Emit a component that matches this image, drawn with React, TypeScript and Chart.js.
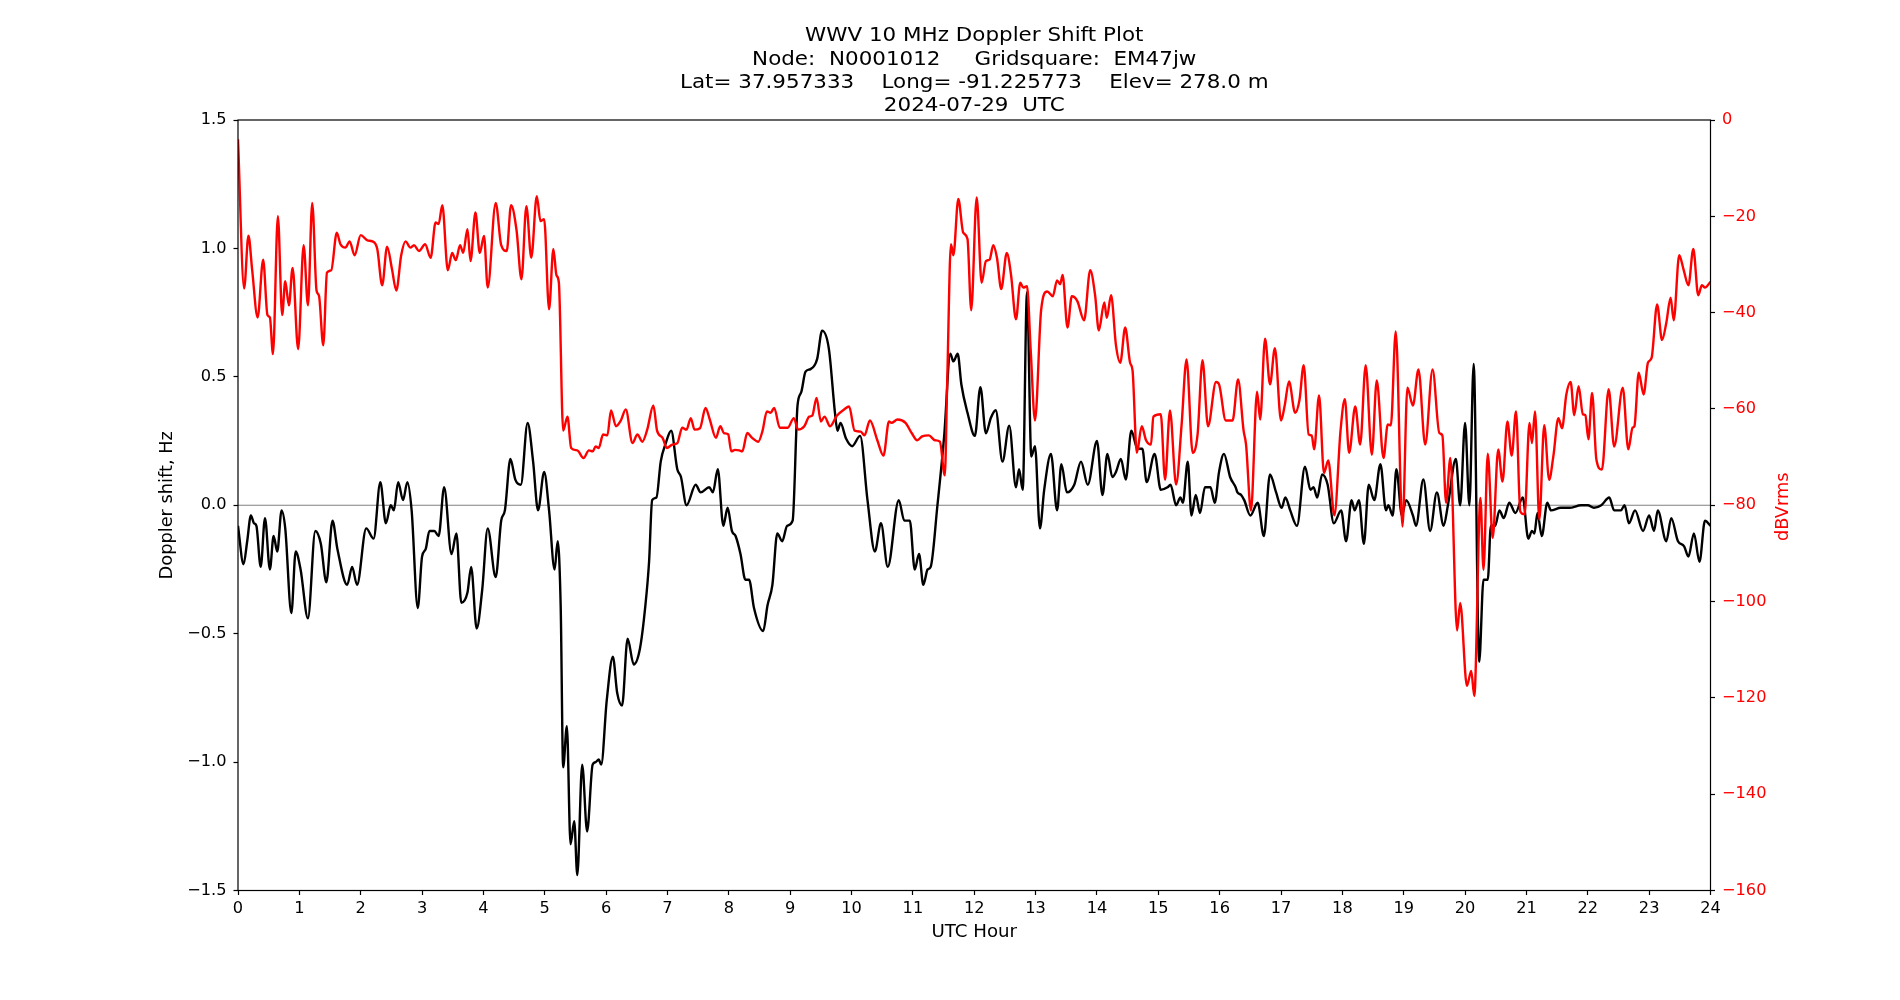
import React, { useEffect, useRef } from "react";
import { Chart, registerables } from "chart.js";

Chart.register(...registerables);

const FONT = '"DejaVu Sans", "Liberation Sans", sans-serif';

const titleLines = [
  "WWV 10 MHz Doppler Shift Plot",
  "Node:  N0001012     Gridsquare:  EM47jw",
  "Lat= 37.957333    Long= -91.225773    Elev= 278.0 m",
  "2024-07-29  UTC",
];

const xAxisLabel = "UTC Hour";
const leftAxisLabel = "Doppler shift, Hz";
const rightAxisLabel = "dBVrms";

const hourTicks = [0, 1, 2, 3, 4, 5, 6, 7, 8, 9, 10, 11, 12, 13, 14, 15, 16, 17, 18, 19, 20, 21, 22, 23, 24];
const dopplerTicks = [-1.5, -1.0, -0.5, 0.0, 0.5, 1.0, 1.5];
const powerTicks = [-160, -140, -120, -100, -80, -60, -40, -20, 0];

// Doppler shift (Hz) vs UTC hour
const dopplerHours = [
  0.0, 0.09, 0.15, 0.21, 0.26, 0.3, 0.37, 0.44, 0.52, 0.58, 0.64, 0.71, 0.77, 0.87, 0.94,
  1.02, 1.14, 1.26, 1.35, 1.44, 1.54, 1.62, 1.78, 1.86, 1.94, 2.09, 2.21, 2.32, 2.41, 2.49,
  2.54, 2.61, 2.69, 2.76, 2.83, 2.93, 3.0, 3.06, 3.12, 3.2, 3.27, 3.36, 3.48, 3.56, 3.64,
  3.74, 3.8, 3.89, 3.98, 4.07, 4.2, 4.29, 4.35, 4.44, 4.52, 4.61, 4.72, 4.81, 4.89, 4.99,
  5.07, 5.16, 5.21, 5.26, 5.3, 5.36, 5.42, 5.48, 5.53, 5.61, 5.69, 5.78, 5.83, 5.88, 5.92,
  6.01, 6.11, 6.18, 6.26, 6.35, 6.45, 6.55, 6.64, 6.7, 6.75, 6.82, 6.89, 6.97, 7.06, 7.16,
  7.22, 7.31, 7.46, 7.54, 7.68, 7.74, 7.82, 7.91, 7.98, 8.05, 8.11, 8.19, 8.27, 8.33, 8.41,
  8.56, 8.63, 8.71, 8.79, 8.87, 8.95, 9.04, 9.12, 9.18, 9.25, 9.33, 9.44, 9.52, 9.63, 9.73,
  9.77, 9.82, 9.91, 10.01, 10.14, 10.26, 10.38, 10.48, 10.59, 10.77, 10.86, 10.95, 11.03, 11.1, 11.17,
  11.24, 11.29, 11.4, 11.51, 11.61, 11.66, 11.73, 11.79, 11.89, 12.01, 12.1, 12.19, 12.27, 12.35, 12.46,
  12.57, 12.68, 12.73, 12.79, 12.86, 12.93, 12.99, 13.07, 13.14, 13.25, 13.35, 13.42, 13.51, 13.63, 13.74,
  13.85, 14.0, 14.09, 14.17, 14.25, 14.31, 14.39, 14.47, 14.56, 14.66, 14.74, 14.81, 14.94, 15.04, 15.15,
  15.2, 15.29, 15.36, 15.4, 15.48, 15.54, 15.61, 15.68, 15.76, 15.85, 15.92, 15.99, 16.07, 16.17, 16.26,
  16.29, 16.35, 16.4, 16.5, 16.62, 16.72, 16.82, 16.92, 17.01, 17.07, 17.15, 17.26, 17.39, 17.48, 17.53,
  17.59, 17.67, 17.76, 17.86, 17.98, 18.06, 18.15, 18.2, 18.27, 18.35, 18.43, 18.52, 18.62, 18.71, 18.75,
  18.82, 18.88, 18.97, 19.04, 19.15, 19.2, 19.32, 19.43, 19.54, 19.65, 19.72, 19.85, 19.92, 20.0, 20.07,
  20.14, 20.23, 20.3, 20.37, 20.42, 20.49, 20.56, 20.63, 20.72, 20.82, 20.94, 21.03, 21.09, 21.13, 21.18,
  21.25, 21.34, 21.4, 21.56, 21.7, 21.89, 22.0, 22.1, 22.22, 22.35, 22.43, 22.54, 22.6, 22.67, 22.77,
  22.9, 23.0, 23.08, 23.14, 23.28, 23.36, 23.47, 23.57, 23.64, 23.73, 23.82, 23.91, 24.0,
];
const dopplerHz = [
  -0.08, -0.23, -0.14, -0.04, -0.07, -0.08, -0.24, -0.05, -0.25, -0.12, -0.18, -0.02, -0.09, -0.42, -0.18,
  -0.25, -0.44, -0.1, -0.15, -0.3, -0.06, -0.17, -0.31, -0.24, -0.31, -0.09, -0.13, 0.09, -0.07, 0.0,
  -0.02, 0.09, 0.02, 0.09, -0.02, -0.4, -0.2, -0.17, -0.1, -0.1, -0.12, 0.07, -0.19, -0.11, -0.38,
  -0.34, -0.24, -0.48, -0.33, -0.09, -0.28, -0.06, -0.02, 0.18, 0.1, 0.08, 0.32, 0.17, -0.02, 0.13,
  -0.02, -0.25, -0.14, -0.4, -1.02, -0.86, -1.32, -1.23, -1.44, -1.01, -1.27, -1.01, -1.0, -0.99, -1.01,
  -0.76, -0.59, -0.73, -0.78, -0.52, -0.62, -0.56, -0.39, -0.22, 0.02, 0.03, 0.17, 0.24, 0.29, 0.14,
  0.11, 0.0, 0.08, 0.05, 0.07, 0.05, 0.14, -0.08, -0.01, -0.1, -0.12, -0.19, -0.29, -0.29, -0.4,
  -0.49, -0.39, -0.31, -0.11, -0.14, -0.08, -0.06, 0.39, 0.44, 0.52, 0.53, 0.57, 0.68, 0.61, 0.36,
  0.29, 0.32, 0.26, 0.23, 0.27, 0.02, -0.18, -0.07, -0.24, 0.02, -0.06, -0.06, -0.25, -0.19, -0.31,
  -0.25, -0.24, 0.0, 0.27, 0.59, 0.56, 0.59, 0.47, 0.36, 0.27, 0.46, 0.28, 0.34, 0.37, 0.17,
  0.31, 0.07, 0.14, 0.06, 0.83, 0.19, 0.23, -0.09, 0.06, 0.2, -0.02, 0.16, 0.05, 0.08, 0.17,
  0.08, 0.25, 0.04, 0.2, 0.11, 0.13, 0.18, 0.1, 0.29, 0.22, 0.22, 0.09, 0.2, 0.06, 0.07,
  0.08, 0.0, 0.03, 0.01, 0.17, -0.04, 0.04, -0.03, 0.07, 0.07, 0.01, 0.13, 0.2, 0.11, 0.07,
  0.05, 0.04, 0.02, -0.04, 0.01, -0.12, 0.12, 0.05, -0.01, 0.03, -0.02, -0.08, 0.15, 0.06, 0.07,
  0.03, 0.12, 0.08, -0.07, -0.02, -0.14, 0.02, -0.02, 0.02, -0.15, 0.08, 0.02, 0.16, -0.02, 0.0,
  -0.04, 0.14, -0.04, 0.02, -0.04, -0.08, 0.1, -0.1, 0.05, -0.08, 0.0, 0.18, 0.0, 0.32, 0.0,
  0.55, -0.61, -0.29, -0.29, -0.08, -0.08, -0.02, -0.05, 0.01, -0.03, 0.03, -0.13, -0.1, -0.11, -0.03,
  -0.12, 0.01, -0.02, -0.01, -0.01, 0.0, 0.0, -0.01, 0.0, 0.03, -0.02, -0.02, 0.0, -0.07, -0.02,
  -0.1, -0.04, -0.1, -0.02, -0.14, -0.05, -0.14, -0.16, -0.2, -0.11, -0.22, -0.06, -0.08,
];

// Received signal level (dBVrms) vs UTC hour
const powerHours = [
  0.0, 0.1, 0.17, 0.23, 0.32, 0.41, 0.48, 0.52, 0.57, 0.65, 0.72, 0.77, 0.83, 0.89, 0.98,
  1.07, 1.14, 1.21, 1.28, 1.32, 1.39, 1.45, 1.52, 1.61, 1.67, 1.75, 1.82, 1.9, 2.0, 2.11,
  2.19, 2.27, 2.35, 2.43, 2.51, 2.58, 2.66, 2.73, 2.81, 2.87, 2.95, 3.05, 3.14, 3.22, 3.27,
  3.33, 3.42, 3.49, 3.55, 3.62, 3.67, 3.74, 3.79, 3.87, 3.94, 4.01, 4.07, 4.2, 4.29, 4.38,
  4.45, 4.54, 4.62, 4.7, 4.78, 4.87, 4.93, 4.99, 5.07, 5.14, 5.19, 5.23, 5.3, 5.37, 5.43,
  5.53, 5.63, 5.72, 5.78, 5.83, 5.88, 5.95, 6.02, 6.08, 6.16, 6.24, 6.32, 6.43, 6.51, 6.59,
  6.67, 6.77, 6.83, 6.92, 6.99, 7.08, 7.16, 7.24, 7.31, 7.38, 7.44, 7.53, 7.62, 7.69, 7.79,
  7.86, 7.92, 7.99, 8.04, 8.1, 8.17, 8.22, 8.3, 8.38, 8.48, 8.55, 8.62, 8.68, 8.74, 8.83,
  8.96, 9.06, 9.13, 9.23, 9.31, 9.36, 9.43, 9.5, 9.56, 9.65, 9.76, 9.88, 9.96, 10.05, 10.15,
  10.21, 10.3, 10.42, 10.52, 10.61, 10.65, 10.75, 10.88, 10.98, 11.07, 11.15, 11.26, 11.36, 11.44, 11.52,
  11.56, 11.62, 11.66, 11.74, 11.82, 11.89, 11.95, 12.04, 12.12, 12.19, 12.25, 12.31, 12.37, 12.44, 12.53,
  12.6, 12.68, 12.75, 12.8, 12.86, 12.92, 12.99, 13.09, 13.19, 13.28, 13.35, 13.4, 13.44, 13.52, 13.59,
  13.68, 13.79, 13.89, 13.97, 14.03, 14.12, 14.16, 14.23, 14.31, 14.38, 14.46, 14.54, 14.58, 14.65, 14.73,
  14.8, 14.88, 14.92, 15.04, 15.11, 15.19, 15.29, 15.38, 15.46, 15.56, 15.64, 15.72, 15.81, 15.94, 15.99,
  16.1, 16.21, 16.3, 16.39, 16.43, 16.51, 16.61, 16.66, 16.74, 16.82, 16.9, 17.0, 17.06, 17.13, 17.23,
  17.3, 17.37, 17.45, 17.5, 17.54, 17.62, 17.7, 17.77, 17.87, 17.97, 18.04, 18.11, 18.21, 18.29, 18.38,
  18.48, 18.56, 18.67, 18.74, 18.79, 18.87, 18.98, 19.06, 19.15, 19.24, 19.35, 19.47, 19.58, 19.63, 19.69,
  19.76, 19.87, 19.92, 20.03, 20.1, 20.15, 20.25, 20.3, 20.37, 20.45, 20.54, 20.61, 20.69, 20.76, 20.83,
  20.9, 20.97, 21.05, 21.09, 21.14, 21.21, 21.29, 21.37, 21.44, 21.52, 21.58, 21.65, 21.72, 21.78, 21.85,
  21.92, 21.96, 22.01, 22.07, 22.14, 22.23, 22.34, 22.43, 22.57, 22.66, 22.73, 22.76, 22.83, 22.91, 22.98,
  23.04, 23.13, 23.21, 23.28, 23.35, 23.4, 23.49, 23.56, 23.64, 23.72, 23.8, 23.86, 23.91, 24.0,
];
const powerDb = [
  -4, -35, -24, -31, -41, -29, -40.5, -41, -48.6, -20, -40.5, -33.5, -38.5, -30.7, -47.6,
  -26, -38.5, -17.2, -35.4, -36.5, -46.8, -31.7, -31.2, -23.4, -25.8, -26.5, -25.2, -28.1, -23.9, -25,
  -25.2, -26.8, -34.3, -26.3, -31, -35.4, -28.1, -25.2, -26.5, -26, -27.2, -25.8, -28.6, -21.3, -21.6,
  -17.7, -31.2, -27.6, -29.1, -26, -27.6, -22.7, -29.3, -19.2, -27.6, -24.1, -34.8, -17.2, -26, -27.2,
  -17.7, -22.9, -33.1, -17.9, -28.6, -15.8, -21, -20.6, -39.3, -26.8, -32.2, -33.8, -64.5, -61.6, -68.1,
  -68.6, -70.2, -68.6, -68.8, -67.8, -68.1, -65.3, -65.5, -60.3, -63.6, -62.4, -60.1, -67.1, -65.3, -66.8,
  -64.3, -59.3, -64.5, -66, -68.1, -67.4, -67.1, -63.9, -64.3, -61.9, -64.3, -64, -59.8, -62.2, -66,
  -63.6, -65, -65.3, -68.8, -68.5, -68.6, -68.8, -65, -66, -66.8, -64.5, -60.5, -60.8, -59.8, -63.9,
  -63.9, -61.9, -64.3, -63.6, -61.6, -61.4, -57.7, -62.6, -61.6, -63.6, -61.4, -60.1, -59.5, -64.5, -64.7,
  -65.5, -62.4, -66.5, -69.7, -62.6, -62.9, -62.2, -62.9, -65, -66.5, -65.7, -65.5, -66.5, -66.8, -73.8,
  -54, -25.8, -28.1, -16.4, -23.4, -24.7, -39.5, -16.1, -33.8, -29.3, -29, -26, -28.6, -35.1, -27.6,
  -32.2, -41.4, -33.8, -34.8, -34.5, -47.8, -62.4, -39.5, -35.6, -36.6, -33.3, -34.1, -32.2, -43.1, -36.6,
  -37.6, -41.6, -31.2, -36.4, -43.7, -37.9, -41.1, -36.4, -46.8, -50.4, -43.1, -50.4, -52, -69.1, -63.6,
  -66.5, -67.4, -61.6, -61.1, -74.7, -60.3, -75.7, -63.2, -49.7, -69.1, -65.3, -49.9, -63.6, -54.4, -54.9,
  -62.4, -62.4, -53.9, -64.5, -67.4, -81.1, -56.4, -62.2, -45.4, -54.9, -47.4, -62.4, -59.3, -54.3, -60.8,
  -58.2, -50.9, -65.3, -65.5, -68.4, -57.2, -73.3, -70.7, -82.1, -64.5, -58, -69.1, -59.5, -67.4, -50.9,
  -69.5, -54.1, -70.2, -63.2, -63.4, -43.9, -84.4, -55.6, -59.3, -51.8, -67.4, -51.8, -65, -65.5, -79.5,
  -70.2, -106, -100.3, -117.5, -114.4, -119.6, -78.5, -93.4, -69.3, -86.8, -68.4, -75.1, -62.6, -69.7, -60.5,
  -81.3, -81.9, -62.9, -67.1, -60.5, -83, -63.4, -74.7, -69.7, -61.9, -64, -57, -54.4, -61.3, -55.3,
  -61.1, -61.3, -66.3, -56.7, -70.5, -72.6, -55.9, -67.8, -55.6, -68.4, -63.9, -63.6, -52.5, -57, -50.4,
  -49.4, -38.3, -45.7, -42.1, -36.9, -41.6, -28.1, -31, -34.3, -26.8, -36.4, -34.3, -34.8, -33.6,
];

// Reference line at zero Doppler shift
const zeroLineHours = [0, 24];
const zeroLineHz = [0, 0];

const toPoints = (xs: number[], ys: number[]) => xs.map((x, i) => ({ x, y: ys[i] }));
const minusSign = (s: string) => s.replace("-", "\u2212");

// Plot frame, titles and axis labels drawn around the chart area
const decorations = {
  id: "decorations",
  afterDatasetsDraw(chart: any) {
    const { ctx, chartArea: a } = chart;
    ctx.save();
    ctx.strokeStyle = "#000";
    ctx.lineWidth = 1.2;
    ctx.strokeRect(a.left, a.top, a.right - a.left, a.bottom - a.top);
    ctx.restore();
  },
  afterDraw(chart: any) {
    const { ctx, chartArea: a } = chart;
    const cx = (a.left + a.right) / 2;
    const cy = (a.top + a.bottom) / 2;
    ctx.save();
    ctx.fillStyle = "#000";

    // four-line heading, slightly widened glyphs
    ctx.textAlign = "center";
    ctx.textBaseline = "alphabetic";
    ctx.font = `19.5px ${FONT}`;
    const titleBaselines = [41.2, 64.9, 88.3, 111.4];
    titleLines.forEach((line, i) => {
      ctx.save();
      ctx.translate(cx, titleBaselines[i]);
      ctx.scale(1.1, 1);
      ctx.fillText(line, 0, 0);
      ctx.restore();
    });

    ctx.textBaseline = "middle";
    ctx.font = `18.2px ${FONT}`;
    ctx.fillText(xAxisLabel, cx, 932.5);

    ctx.font = `17.8px ${FONT}`;
    ctx.save();
    ctx.translate(167, cy);
    ctx.rotate(-Math.PI / 2);
    ctx.fillText(leftAxisLabel, 0, 0);
    ctx.restore();

    ctx.save();
    ctx.fillStyle = "#ff0000";
    ctx.translate(1783, cy + 1.5);
    ctx.rotate(-Math.PI / 2);
    ctx.fillText(rightAxisLabel, 0, 0);
    ctx.restore();
    ctx.restore();
  },
};

const tickGrid = {
  display: true,
  drawOnChartArea: false,
  drawTicks: true,
  tickLength: 4.5,
  tickColor: "#000",
  tickWidth: 1.2,
};

const tickFont = { family: FONT, size: 16.2 };

export default function App() {
  const canvasRef = useRef<HTMLCanvasElement | null>(null);

  useEffect(() => {
    const canvas = canvasRef.current;
    if (!canvas) return;
    const chart = new Chart(canvas, {
      type: "line",
      data: {
        datasets: [
          {
            label: "dBVrms",
            data: toPoints(powerHours, powerDb),
            yAxisID: "y1",
            borderColor: "#ff0000",
            borderWidth: 2.4,
            pointRadius: 0,
            cubicInterpolationMode: "monotone",
            fill: false,
          },
          {
            label: "Doppler shift",
            data: toPoints(dopplerHours, dopplerHz),
            yAxisID: "y",
            borderColor: "#000000",
            borderWidth: 2.4,
            pointRadius: 0,
            cubicInterpolationMode: "monotone",
            fill: false,
          },
          {
            label: "zero",
            data: toPoints(zeroLineHours, zeroLineHz),
            yAxisID: "y",
            borderColor: "#808080",
            borderWidth: 1.2,
            pointRadius: 0,
            fill: false,
          },
        ],
      },
      options: {
        responsive: false,
        animation: false,
        devicePixelRatio: 1,
        layout: { padding: { top: 120, left: 0, right: 0, bottom: 69.5 } },
        plugins: {
          legend: { display: false },
          tooltip: { enabled: false },
          title: { display: false },
        },
        scales: {
          x: {
            type: "linear",
            min: 0,
            max: 24,
            afterBuildTicks: (s: any) => {
              s.ticks = hourTicks.map((v) => ({ value: v }));
            },
            afterFit: (s: any) => {
              s.height = 40;
            },
            grid: tickGrid,
            border: { display: false },
            ticks: {
              color: "#000",
              padding: 4.5,
              maxRotation: 0,
              autoSkip: false,
              font: tickFont,
              callback: (v: any) => String(v),
            },
          },
          y: {
            type: "linear",
            position: "left",
            min: -1.5,
            max: 1.5,
            afterBuildTicks: (s: any) => {
              s.ticks = dopplerTicks.map((v) => ({ value: v }));
            },
            afterFit: (s: any) => {
              s.width = 238;
            },
            grid: tickGrid,
            border: { display: false },
            ticks: {
              color: "#000",
              padding: 7,
              autoSkip: false,
              font: tickFont,
              callback: (v: any) => minusSign(Number(v).toFixed(1)),
            },
          },
          y1: {
            type: "linear",
            position: "right",
            min: -160,
            max: 0,
            afterBuildTicks: (s: any) => {
              s.ticks = powerTicks.map((v) => ({ value: v }));
            },
            afterFit: (s: any) => {
              s.width = 189.5;
            },
            grid: tickGrid,
            border: { display: false },
            ticks: {
              color: "#ff0000",
              padding: 7,
              autoSkip: false,
              font: tickFont,
              callback: (v: any) => minusSign(String(v)),
            },
          },
        },
      },
      plugins: [decorations],
    });
    return () => chart.destroy();
  }, []);

  return (
    <div style={{ position: "fixed", left: 0, top: 0, width: 1900, height: 1000, background: "#fff" }}>
      <canvas ref={canvasRef} width={1900} height={1000} style={{ display: "block" }} />
    </div>
  );
}
